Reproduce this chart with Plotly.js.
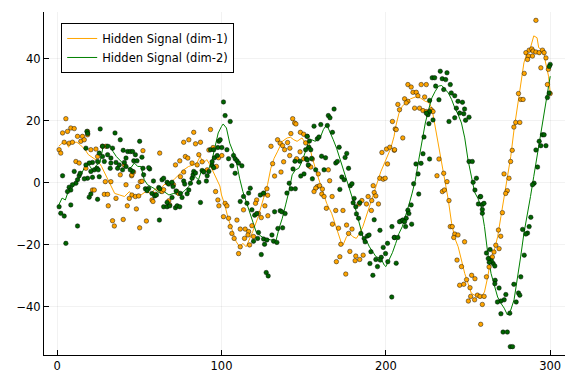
<!DOCTYPE html>
<html>
<head>
<meta charset="utf-8">
<script src="https://cdn.plot.ly/plotly-3.0.1.min.js"></script>
<style>html,body{margin:0;padding:0;background:#fff;}#chart{width:576px;height:384px;}</style>
</head>
<body>
<div id="chart"></div>
<script>
// Hidden signal (dim-1)
const sig1X = [1,3,5,7,8,12,14,17,19,22,25,27,29,31,33,35,38,41,44,46,48,51,54,57,60,62,65,68,71,74,77,80,83,85,87,89,91,93,95,97,99,100,102,104,106,109,111,113,115,117,119,122,125,127,128,130,132,134,137,140,142,144,146,149,151,153,155,158,160,162,164,167,169,171,173,174,176,178,180,182,184,186,188,190,192,194,197,200,203,205,206,208,210,212,215,218,221,224,226,228,230,232,234,236,238,240,242,244,246,248,250,252,254,256,258,260,262,264,266,268,270,272,274,276,278,280,282,284,286,288,290,292,293,296,297,299,300];
const sig1Y = [11.8,12.8,13.4,11.5,13.1,13.1,12.3,10.7,9.1,8,6.9,5.3,3.1,1,-1.2,-3.4,-3.9,-4.4,-2.8,-4.4,-4.4,-3.9,-2.8,-3.4,-1.8,-2.8,-0.6,0,1,2.6,4.2,5.3,5.8,6.4,8.5,6.4,7.5,5.8,3.7,1.5,-1,-3.9,-7.1,-11.4,-14.7,-19,-20.6,-19.5,-20.6,-18.4,-15.7,-11.4,-6,-2.8,-0.6,4.7,7.9,10,13.4,14.5,14.7,13.9,13.4,14.5,12.8,13.4,8.5,3.1,-0.1,-2.8,-6.6,-9.8,-13,-15.7,-19.5,-20,-17.4,-16.3,-17.4,-17.9,-16.3,-14.1,-10.9,-7.7,-3.9,-0.6,3.7,7.4,11.2,15,18.2,22.5,24.7,25.8,27.1,27.7,27.4,26.3,26,24.1,18.2,12.8,7.4,1,-5.5,-13,-17.9,-20.6,-24.9,-29.2,-32.4,-35.6,-36.2,-35.6,-36.7,-35.2,-30.3,-23.9,-21.7,-17.4,-10.9,-4.4,2.1,8.5,17.2,24.7,31.2,38.7,42.2,43.6,47.4,46.8,43.6,42.5,39.3,34.4,29];

// Hidden signal (dim-2)
const sig2X = [1,3,5,7,9,11,13,15,17,18,20,22,24,26,28,30,32,34,36,38,41,43,45,47,49,51,53,55,57,59,61,63,65,68,71,74,77,80,82,84,86,88,90,92,94,96,98,100,101,103,105,107,109,111,113,115,117,119,121,123,126,128,130,132,133,135,137,139,141,143,145,147,149,151,153,155,157,160,162,164,166,168,170,172,174,176,178,180,182,184,186,188,190,192,194,197,199,200,202,204,206,208,210,212,214,216,218,220,222,224,226,228,230,232,234,236,238,240,242,244,246,248,250,252,254,256,258,260,262,264,266,268,270,272,274,276,278,280,282,284,286,288,290,292,294,296,298,300];
const sig2Y = [-7.1,-4.9,-5.5,-2.3,-1.7,-0.1,1,3.1,5.3,6.4,5.3,3.7,5.8,6.4,11.8,11.2,12.3,10.1,8.5,7.4,5.8,4.7,5,6.4,5.3,5.3,1,-0.6,-1.2,-1.8,-2.8,-3.4,-2.8,-3.9,-3.4,-3.9,-2.8,-1.2,1,2,1,4.2,4.2,4.2,6.8,11.2,16.1,18.2,19,17.7,12.8,10.1,6.9,1.5,-2.8,-6,-9.3,-12.5,-15.7,-16.8,-17.9,-18.1,-18.4,-18.4,-19,-14.7,-11.4,-7.1,-2.8,2.6,4.2,4.7,6.9,10,13.4,13.9,13.4,14.5,17.2,18.8,16.6,13.9,11.2,8,4.2,1,-2.3,-5.5,-9.3,-13.6,-17.4,-18.4,-20.6,-22.2,-23.8,-24.4,-26.5,-27,-24.9,-22.5,-19.5,-16.3,-14.1,-10.9,-7.1,-3.3,1,7.4,13.9,19.3,23.6,27.4,29.5,31.2,31.4,30.3,29,26.9,24.1,22,19.3,14.5,7.4,2.2,-3,-5,-7.7,-14.1,-22.7,-29.2,-33.5,-36.8,-38.8,-40.4,-42.6,-41,-37.7,-31.4,-23.9,-16.3,-10.9,-4.4,2.1,8.5,13.9,21.5,27.9,34.4];

// Noisy observations (dim-1)
const obs1X = [5.3,3.3,6.3,8.3,10.4,1.2,2.2,4.3,7.3,9.3,12.4,15.4,14.4,16.5,18.5,18.5,11.4,13.4,17.5,20.5,23.6,24.6,27.6,29.7,21.5,22.6,28.7,30.7,29.3,32.7,31.1,33.7,34.8,40.2,35.8,41.9,38.4,40.9,43.9,45.3,42.7,
52.2,45.5,46.5,50.6,51.6,49,45.5,47.6,49.6,48.2,54.3,50.2,62.4,57.7,58.3,59.8,63.8,64.8,67.3,70.8,67.9,68.5,72.9,73.9,75,77,72,74.6,78,79.5,82.1,85.2,86.2,88.2,77,80.1,84.2,87.2,93.3,92.3,94.9,96.9,91.3,96.4,98.4,97.8,83.1,
143.3,144.5,145.3,148,150,152,142.2,134.1,135.7,137.2,130.1,138.4,141.6,145.7,150,137.8,131.1,132.3,136.2,127.6,125.6,128.1,121.4,120.7,113.4,126.4,122.5,124.2,128.2,102.2,103.3,101.2,104.3,109.4,105.3,106.3,107.7,111.4,114.4,116.5,118.5,116.1,117.1,119.5,111.4,110.4,114,98.2,100.2,140.2,147.8,141.5,
204,205.7,197.6,200.4,202.4,205.1,201,196.3,198.4,199.6,192.3,192.9,193.9,195.5,191.4,191.2,189.2,185.4,188.2,183.7,151.2,155.3,153.2,154.3,158.9,165,165.8,158.3,157.3,159.7,161.4,156.3,161,162.4,167.3,163.8,169.5,173.9,167.5,171.2,176.1,177.3,179.4,172.6,178.1,172,169.9,181.7,184.1,186.2,181.3,175.6,
213.4,215.4,221.5,224.6,216.5,218.5,219.5,223.6,211.4,213.4,212.4,207.3,208.3,217.5,220.5,222.6,224.6,225.6,227.6,228.7,206.3,210.3,205.3,232.3,231.1,235.2,237.2,234.4,235.6,238.4,239.2,240.4,241.9,241.3,243.9,247.9,243.3,246,249.1,244.9,247.4,252.2,254.2,251.2,251.6,250.2,254,255.7,257.3,258.7,
291.3,285.2,287.2,288.8,289.6,291.3,293.3,295.3,296.3,286.8,289.2,286.2,297.4,294.3,298.9,284.2,298.3,300,280.7,282.1,283.5,279,281.5,277.9,276.9,275.9,274.9,271.9,273.9,272.9,270.9,268.5,269.9,266.9,268.9,265.8,263.8,264.8,262.8,261.2,259.8,257.7];
const obs1Y = [20.7,16.1,16.6,17.7,17.5,10.7,9.6,13.1,12.8,13.1,15,15,13.4,13.9,16.6,15.5,6.9,6.4,4.7,10.7,10.9,8.5,11.8,11.8,-2.3,-2.3,-3.7,-3.7,0.4,0.4,-7.4,-12.2,-13.9,-11.8,-5,-0.6,2.6,5.8,-5,2.3,-7.4,
10.4,2.6,3.5,0.4,0.5,-1.2,-3.9,-4.4,-4.2,-8.4,-12.3,-14.5,9.6,-5.5,-6,-3.7,-2.8,-2.2,-0.1,-0.6,-5.8,-7.1,-2.8,-3.4,2,3.5,5.8,7.1,8.5,8,6.4,5.8,9.1,6.8,13.1,13.9,12.6,13.1,17.2,10.6,11.4,5.3,4.2,-2.8,-7.4,-5.5,16.3,
20.7,19.3,19,16.3,15.7,15,15.9,13.9,12.8,12,11.8,10.7,11.2,7.8,7.8,6.8,6.2,2.2,3.5,-1.9,-3.6,-4,-5.5,-6.6,-8.7,-7.4,-9.9,-11.2,-10.6,-6.6,-7.4,-10.9,-11.4,-12,-14.1,-16.3,-17.9,-14.9,-14.9,-15.7,-13.8,-16.8,-20,-17.3,-20.6,-22.8,-17.9,8.1,8.8,13,10,8.8,
19.8,17.4,9.8,10.9,11.5,10.5,6.1,1.5,1.2,1.5,-0.9,-3.1,-4.2,-6.8,-5.7,-8.9,-4.4,-5.7,-6.8,-6.8,12.9,7.7,5.5,5.1,2.9,4.2,0.7,-1.2,-1.7,-0.9,-2,-2.8,-3.6,-4.4,-4.4,-8.2,-8.9,-8.9,-13.3,-14.6,-13.6,-16.3,-14.9,-19.8,-22.1,-23.8,-25.4,-23.6,-24.7,-23.3,-25.1,-29.4,
31.7,30.9,31.7,31.7,29.2,29.2,28.1,27.7,27.1,26.3,25.8,25.3,23.6,24.1,24.1,23.3,23,22.2,23.6,23,17.2,14.5,10.7,7.7,2.3,3.1,0.4,-2.8,-2.3,-5.7,-14.1,-14.1,-16.5,-17.6,-16.8,-19,-24.9,-27,-31.2,-33,-32.7,-29.8,-30.9,-33.8,-36.6,-38.1,-37.7,-36.2,-36.6,-39.2,
52.4,42,42.8,43.2,42.5,42.2,42,42.8,42,40.9,40.9,39.8,40.3,37.1,36.6,35.3,31.7,28.8,28.8,26.9,26.9,19.5,19.5,18,10.5,6.9,1.5,2.9,-2.5,-3.4,-9.6,-15.2,-17.2,-20.1,-21.2,-22.3,-24.4,-23.9,-27.1,-30.3,-36.6,-45.6];

// Noisy observations (dim-2)
const obs2X = [26.2,35.2,38.4,18.1,18.6,17.5,27.6,30.7,33.7,25.6,27.6,30.7,32.7,35.8,40.2,42.9,44.5,45.9,41.9,40.9,41.9,36.8,39.8,37.8,32.3,28.7,24.6,21.5,19.5,17.5,22.6,24.2,25,20.5,18.5,16.5,13.4,14,10.4,12.4,11.4,9.3,7.3,8.3,6.3,3.3,1.2,2.2,4.3,8.3,12.4,5.3,21.5,25.6,24.6,19.5,20.5,32.7,45.9,44.5,
50.2,47.6,51.6,46.6,48.6,52.2,56.3,55.7,52.6,58.6,53.7,55.7,54.7,57.7,59.3,60.4,61.8,62.4,63.8,64.8,66.9,67.9,69.9,70.5,66.9,64.8,66.9,68.5,72,73,74.6,69.9,72.4,75,76,77,77.6,79.1,80.1,81.1,82.1,82.7,83.1,84.2,86.2,88.2,89.2,90.8,91.3,92.3,94.3,95.3,94.3,95.7,93.3,95.3,97.8,97.4,98.4,87.2,62.2,
101.2,102.2,105.3,99.2,100.2,103.3,107.3,104.3,108.3,109.4,110.4,112.4,106.3,108.3,117.5,113.4,111.4,115.5,116.5,123.6,125.6,118.5,120.2,121.5,122.5,119.5,122,125.6,126.2,124.2,127.6,130.7,131.7,133.7,134.3,137.2,132.3,135.7,136.7,138.7,139.8,141.2,142.4,144.9,143.5,144.7,147.6,148.2,150.2,151.6,152.8,151.2,127.2,128.4,
168.5,165,166,160.4,156.3,164.4,152.2,158.3,159.3,153.2,154.3,152.2,154.8,160.9,163.3,167.5,171.6,157.3,162.4,155.3,169.5,170.5,175.2,176.2,177.3,173.2,174.6,172,178.4,179.4,180.7,180.1,181.7,184.1,182.1,183.4,184.8,186.8,187.4,188.8,189.8,192.9,196.4,198.4,201,203.7,205.1,190.9,193.9,199.8,190.3,194.9,192.1,197.2,201.2,203.6,196.6,153.5,
233.1,237.2,228.2,229.7,234.3,236.4,230.3,235.2,239.2,239.8,241.9,243.9,246.6,226.6,232.3,242.9,247.9,244.9,247.4,250.6,248.5,241.9,238.4,226.6,225.6,224.6,228.7,226.2,223.2,226.6,222.6,221.4,218.3,219.6,216.9,220,215.4,213.4,214,212.4,209.3,208.3,210.3,211.4,212,215.7,205.3,207.3,206.3,250.6,252.6,255.1,253.1,254.2,257.3,256.3,258.7,258.7,
300,299.4,299.4,298.3,295.3,296.3,297.4,294.3,293.3,291.3,292.3,290.2,289.2,288.2,287.2,286.2,285.2,283.2,284.2,282.1,280.7,281.5,279.3,277.9,275.4,273,272,270,267.9,268.9,266.5,270,271.3,273.9,275.7,277.1,266.3,265.3,264.2,266.3,262.9,262.3,263.4,261.2,257.7,259.7,258.7];
const obs2Y = [17.4,16.1,13.9,16.6,15.9,11.2,11.8,11.8,11.2,9.6,8.5,9.1,8,6.6,10.5,10.1,10.1,10.1,8,6.6,5.3,4.7,4.2,5.8,4.7,6.9,6.9,6.6,6.4,5.8,4.2,4.7,4.2,3.7,1.5,1.3,2.3,3.1,3.7,1,-0.1,-0.6,-1.4,-2.3,-2.8,2.3,-7.7,-9.8,-10.7,-7.1,-13.9,-19.5,1.8,2,-5.3,-4.6,-3.6,6.4,3.7,4.2,
13.4,9.1,8.3,7.1,7.1,4.7,4.5,4.9,2.6,0.6,-1.9,-1.8,-2.5,-3.4,-4.2,-3.9,-1.5,-1.9,1,1.5,0.2,-0.4,0.2,-1.2,-6.3,-7.7,-7.7,-7.4,-8,-7.4,-7.7,-4.7,-2.6,-3.4,-4.7,0.6,-0.4,-3.5,-2.3,-0.1,1.5,2.6,3.7,3.2,0.2,4,3.5,0.6,2.3,3.7,5.6,4.9,6.8,8.1,10.7,10.7,11.4,8.8,13.4,-6.3,-12,
26.1,21.7,19.8,13.9,11.4,10.7,8.8,7.8,7.8,7.1,6.4,5.5,5.5,3.1,-1.7,-4.4,-6,-6.6,-3.3,-3.9,-3.3,-8.7,-10.4,-9.9,-16,-18.8,-17.9,-18.1,-19.8,-23.1,-18.4,-16.8,-18.8,-19.2,-14.7,-14.5,-9.3,-9,-9.3,-9.9,-3.3,-0.1,-1.9,-1.9,4.5,7,7,2.2,2.9,7.8,5.8,10.7,-28.9,-30,
23.8,21.7,21,18.8,18.3,18.5,15,14.2,14.8,11.5,10.7,7.4,7.9,8.6,8.1,16.3,11.5,4.2,4.2,1.3,6.4,6.9,8.2,9.5,4.7,1.9,1,-2.1,-0.9,-0.3,-5,-6.4,-7.7,-6.4,-10,-11.4,-16.3,-17.9,-19,-17.1,-16.8,-11.9,-15.3,-20.8,-19.5,-14.1,-17.6,-22.2,-24.7,-22.8,-26,-27,-29.8,-24,-25.4,-36.8,-24.9,13.5,
36,35.5,33.9,33.9,33.6,33.3,31.2,30.1,31.7,29,28.1,26.3,26,26.6,26.8,24.1,23.8,22.5,22.3,21.2,20.2,21,19.8,23,22,22.5,20.3,19.1,14.8,7.7,9.4,6.3,6.1,2.9,-0.3,-3.6,-7.1,-8.8,-9.9,-11.4,-12.3,-12.5,-12,-12.5,-14.1,-13.3,-17.6,-17.6,-25.9,6.9,6.9,1.5,0.2,-2.3,-4.5,-6.8,-9.8,-7,
38.2,37.5,29,27.5,15.5,15.5,12,12,13.4,10.6,5.1,-0.1,-0.6,-11.1,-14.1,-16.2,-16.5,-15,-23.3,-30.3,-35.5,-36.2,-38.4,-32.7,-42,-36,-37.7,-38.1,-38.4,-33.9,-31.4,-42.2,-48.1,-48.1,-52.8,-52.8,-32.5,-26,-25.1,-26.8,-25.6,-24.4,-21.5,-22.6,-4.4,-6.6,-8.6];

const xTicks = [0, 100, 200, 300];
const yTicks = [-40, -20, 0, 20, 40];

const FONT = 'DejaVu Sans, sans-serif';
const markerEdge = {color: 'rgba(0,0,0,0.75)', width: 0.6};

const traces = [
  {x: sig1X, y: sig1Y, type: 'scatter', mode: 'lines', name: 'Hidden Signal (dim-1)',
   line: {color: '#FFA500', width: 1}},
  {x: sig2X, y: sig2Y, type: 'scatter', mode: 'lines', name: 'Hidden Signal (dim-2)',
   line: {color: '#008000', width: 1}},
  {x: obs1X, y: obs1Y, type: 'scatter', mode: 'markers', showlegend: false,
   marker: {color: '#FFA500', size: 4.5, line: markerEdge}},
  {x: obs2X, y: obs2Y, type: 'scatter', mode: 'markers', showlegend: false,
   marker: {color: '#006400', size: 4.5, line: markerEdge}}
];

const axisCommon = {
  ticks: 'inside', ticklen: 5, tickcolor: 'black', tickwidth: 1,
  showline: true, linecolor: 'black', linewidth: 1, mirror: false,
  showgrid: true, gridcolor: 'rgba(0,0,0,0.1)', gridwidth: 0.5,
  zeroline: false,
  tickfont: {family: FONT, size: 11.5, color: 'black'}
};

const layout = {
  width: 576, height: 384,
  margin: {l: 44, r: 11, t: 12, b: 29, pad: 0},
  paper_bgcolor: 'white', plot_bgcolor: 'white',
  font: {family: FONT, size: 11.5, color: 'black'},
  xaxis: Object.assign({}, axisCommon, {range: [-8, 309], tickvals: xTicks, ticktext: xTicks.map(String)}),
  yaxis: Object.assign({}, axisCommon, {range: [-55.5, 55.1], tickvals: yTicks}),
  showlegend: true,
  legend: {x: 0.033, y: 0.968, xanchor: 'left', yanchor: 'top',
           bgcolor: 'white', bordercolor: 'black', borderwidth: 1,
           font: {family: FONT, size: 11.5, color: 'black'}, tracegroupgap: 0}
};

Plotly.newPlot('chart', traces, layout, {staticPlot: true, displayModeBar: false});
</script>
</body>
</html>
